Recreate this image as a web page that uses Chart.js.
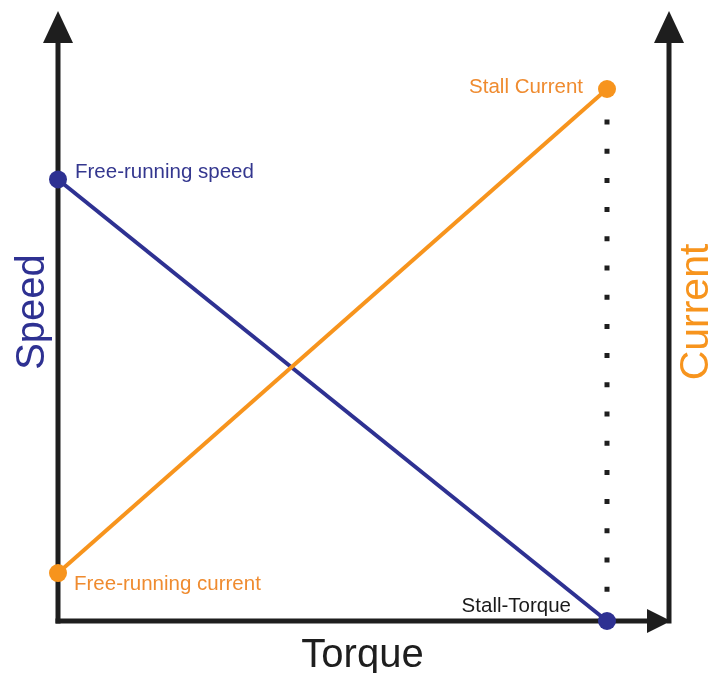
<!DOCTYPE html>
<html>
<head>
<meta charset="utf-8">
<title>Motor torque curve</title>
<script src="https://cdn.jsdelivr.net/npm/chart.js@4.4.0/dist/chart.umd.min.js"></script>
<style>
  html, body { margin: 0; padding: 0; background: #fff; }
  canvas { display: block; }
</style>
</head>
<body>
<canvas id="motorChart" width="708" height="673"></canvas>
<script>
// torque axis: 0 = free running, 100 = stall
const torque = [0, 100];
const speed = [83, 0];      // % of scale
const current = [9, 100];   // % of scale

const speedLabels = ['Free-running speed', 'Stall-Torque'];
const currentLabels = ['Free-running current', 'Stall Current'];

const BLUE = '#2e3192';
const ORANGE = '#f7941d';
const AXIS = '#1e1e1e';
const FONT = '"Liberation Sans", Arial, sans-serif';

const toPoints = (ys) => torque.map((t, i) => ({ x: t, y: ys[i] }));

// axes with arrow heads, dotted stall line and all the text
const decorations = {
  id: 'decorations',
  beforeDatasetsDraw(chart) {
    const { ctx, chartArea } = chart;
    const xs = chart.scales.x;
    const left = chartArea.left;
    const bottom = chartArea.bottom;
    const rightAxis = chartArea.right + 62;
    const tipY = 11;

    ctx.save();
    ctx.strokeStyle = AXIS;
    ctx.fillStyle = AXIS;
    ctx.lineWidth = 5;
    ctx.lineCap = 'butt';

    // left + right vertical axes
    [left, rightAxis].forEach(x => {
      ctx.beginPath();
      ctx.moveTo(x, bottom + 2.5);
      ctx.lineTo(x, tipY + 28);
      ctx.stroke();
      ctx.beginPath();
      ctx.moveTo(x, tipY);
      ctx.lineTo(x + 15, tipY + 32);
      ctx.lineTo(x - 15, tipY + 32);
      ctx.closePath();
      ctx.fill();
    });

    // horizontal torque axis
    ctx.beginPath();
    ctx.moveTo(left - 2.5, bottom);
    ctx.lineTo(rightAxis - 20, bottom);
    ctx.stroke();
    ctx.beginPath();
    ctx.moveTo(rightAxis + 2, bottom);
    ctx.lineTo(rightAxis - 22, bottom - 12);
    ctx.lineTo(rightAxis - 22, bottom + 12);
    ctx.closePath();
    ctx.fill();

    // dotted line at stall torque
    const sx = xs.getPixelForValue(torque[1]);
    ctx.setLineDash([5, 24.2]);
    ctx.beginPath();
    ctx.moveTo(sx, 119.5);
    ctx.lineTo(sx, 592);
    ctx.stroke();
    ctx.restore();
  },
  afterDraw(chart) {
    const { ctx, chartArea } = chart;
    const xs = chart.scales.x;
    const ys = chart.scales.speed;
    const yc = chart.scales.current;
    ctx.save();

    // point labels
    ctx.font = '20.5px ' + FONT;
    ctx.textBaseline = 'alphabetic';
    ctx.textAlign = 'left';
    ctx.fillStyle = '#34378f';
    ctx.fillText(speedLabels[0], xs.getPixelForValue(torque[0]) + 17, ys.getPixelForValue(speed[0]) - 1);
    ctx.fillStyle = '#ef8b2f';
    ctx.fillText(currentLabels[0], xs.getPixelForValue(torque[0]) + 16, yc.getPixelForValue(current[0]) + 17);
    ctx.textAlign = 'right';
    ctx.fillText(currentLabels[1], xs.getPixelForValue(torque[1]) - 24, yc.getPixelForValue(current[1]) + 4);
    ctx.fillStyle = '#1a1a1a';
    ctx.fillText(speedLabels[1], xs.getPixelForValue(torque[1]) - 36, ys.getPixelForValue(speed[1]) - 9);

    // axis titles
    ctx.font = '40px ' + FONT;
    ctx.textAlign = 'center';
    ctx.fillStyle = '#1e1e1e';
    ctx.fillText('Torque', (chartArea.left + chartArea.right + 62) / 2 - 1, 667);

    const mid = (chartArea.top + chartArea.bottom) / 2 - 43;
    ctx.save();
    ctx.translate(44, mid);
    ctx.rotate(-Math.PI / 2);
    ctx.fillStyle = BLUE;
    ctx.fillText('Speed', 0, 0);
    ctx.restore();

    ctx.save();
    ctx.translate(708, mid);
    ctx.rotate(-Math.PI / 2);
    ctx.font = '41px ' + FONT;
    ctx.fillStyle = ORANGE;
    ctx.fillText('Current', 0, 0);
    ctx.restore();

    ctx.restore();
  }
};

new Chart(document.getElementById('motorChart').getContext('2d'), {
  type: 'scatter',
  data: {
    datasets: [
      {
        label: 'Speed',
        yAxisID: 'speed',
        data: toPoints(speed),
        showLine: true,
        borderColor: BLUE,
        backgroundColor: BLUE,
        borderWidth: 4,
        pointRadius: 9,
        pointBorderWidth: 0,
        clip: false,
        order: 1,
      },
      {
        label: 'Current',
        yAxisID: 'current',
        data: toPoints(current),
        showLine: true,
        borderColor: ORANGE,
        backgroundColor: ORANGE,
        borderWidth: 4,
        pointRadius: 9,
        pointBorderWidth: 0,
        clip: false,
        order: 0,
      },
    ],
  },
  options: {
    responsive: false,
    animation: false,
    events: [],
    layout: {
      padding: { left: 58, right: 101, top: 89, bottom: 52 }
    },
    plugins: {
      legend: { display: false },
      tooltip: { enabled: false },
    },
    scales: {
      x: { type: 'linear', min: 0, max: 100, display: false },
      speed: { type: 'linear', position: 'left', min: 0, max: 100, display: false },
      current: { type: 'linear', position: 'right', min: 0, max: 100, display: false },
    },
  },
  plugins: [decorations],
});
</script>
</body>
</html>
